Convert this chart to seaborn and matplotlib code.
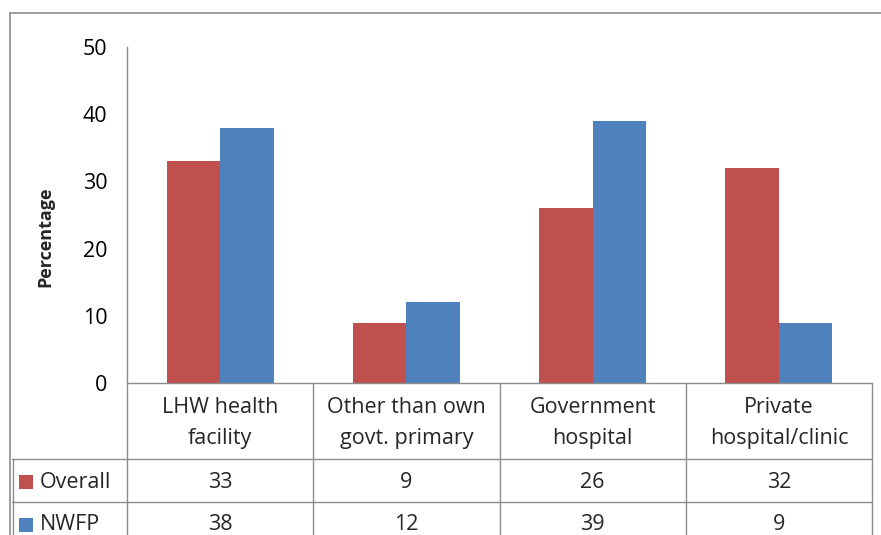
import pandas as pd
import matplotlib
matplotlib.use('Agg')
import matplotlib.pyplot as plt
from matplotlib.lines import Line2D
from matplotlib.patches import Rectangle
import seaborn as sns

# Chart data
categories = ['LHW health\nfacility', 'Other than own\ngovt. primary',
              'Government\nhospital', 'Private\nhospital/clinic']
series_names = ['Overall', 'NWFP']
overall = [33, 9, 26, 32]
nwfp = [38, 12, 39, 9]
y_ticks = [0, 10, 20, 30, 40, 50]

colors = {'Overall': '#C0504D', 'NWFP': '#4F81BD'}
grid_color = '#8C8C8C'
font = 'Open Sans'
fs = 15.5

df = pd.DataFrame({
    'category': categories * 2,
    'series': ['Overall'] * 4 + ['NWFP'] * 4,
    'value': overall + nwfp,
})

sns.set_style('white')
plt.rcParams['font.family'] = [font, 'DejaVu Sans']

W, H = 881, 535
fig = plt.figure(figsize=(W / 100, H / 100), dpi=100)

# axes placed in pixel terms (left 127, right 872, top 47, bottom 383)
ax_left, ax_right, ax_top, ax_bottom = 127, 872, 47, 383
ax = fig.add_axes([ax_left / W, 1 - ax_bottom / H,
                   (ax_right - ax_left) / W, (ax_bottom - ax_top) / H])

sns.barplot(data=df, x='category', y='value', hue='series', order=categories,
            hue_order=series_names, palette=colors, width=0.575, gap=0,
            saturation=1, linewidth=0, legend=False, ax=ax)

ax.set_xlim(-0.5, len(categories) - 0.5)
ax.set_ylim(0, 50)
ax.set_yticks(y_ticks)
ax.set_yticklabels([str(t) for t in y_ticks], fontsize=fs, color='#000000')
ax.tick_params(axis='y', length=0, pad=14)
ax.set_xticks([])
ax.set_xlabel('')
ax.set_ylabel('')
for s in ['top', 'right']:
    ax.spines[s].set_visible(False)
for s in ['left', 'bottom']:
    ax.spines[s].set_color(grid_color)
    ax.spines[s].set_linewidth(1)

# y axis title
fig.text(45 / W, 1 - 237 / H, 'Percentage', rotation=90, fontsize=13,
         fontweight='bold', ha='center', va='center')

# data table below the axes
plot_h = ax_bottom - ax_top


def ay(ypix):
    return (ax_bottom - ypix) / plot_h


xt = ax.get_xaxis_transform()
row_lines = [459, 502]
row_centers = {'header': 423, 'Overall': 482, 'NWFP': 525}

for i in range(len(categories) + 1):
    ax.add_line(Line2D([i - 0.5, i - 0.5], [0, ay(560)], transform=xt,
                       color=grid_color, lw=1, clip_on=False))

for yp in row_lines:
    fig.add_artist(Line2D([12 / W, ax_right / W], [1 - yp / H, 1 - yp / H],
                          color=grid_color, lw=1))
fig.add_artist(Line2D([12.5 / W, 12.5 / W], [1 - row_lines[0] / H, 0],
                      color=grid_color, lw=1))

for i, cat in enumerate(categories):
    ax.text(i, ay(row_centers['header']), cat, transform=xt, ha='center',
            va='center', fontsize=fs, linespacing=1.65)
    ax.text(i, ay(row_centers['Overall']), str(overall[i]), transform=xt,
            ha='center', va='center', fontsize=fs)
    ax.text(i, ay(row_centers['NWFP']), str(nwfp[i]), transform=xt,
            ha='center', va='center', fontsize=fs)

for name in series_names:
    yc = row_centers[name]
    fig.add_artist(Rectangle((19 / W, 1 - (yc + 7) / H), 14 / W, 14 / H,
                             facecolor=colors[name], edgecolor='none'))
    fig.text(40 / W, 1 - yc / H, name, fontsize=fs, ha='left', va='center')

# outer chart frame
fig.add_artist(Line2D([10 / W, 10 / W], [1 - 13 / H, 0], color=grid_color, lw=1.2))
fig.add_artist(Line2D([10 / W, 1], [1 - 13 / H, 1 - 13 / H], color=grid_color, lw=1.2))

fig.savefig('out.png', dpi=100)
